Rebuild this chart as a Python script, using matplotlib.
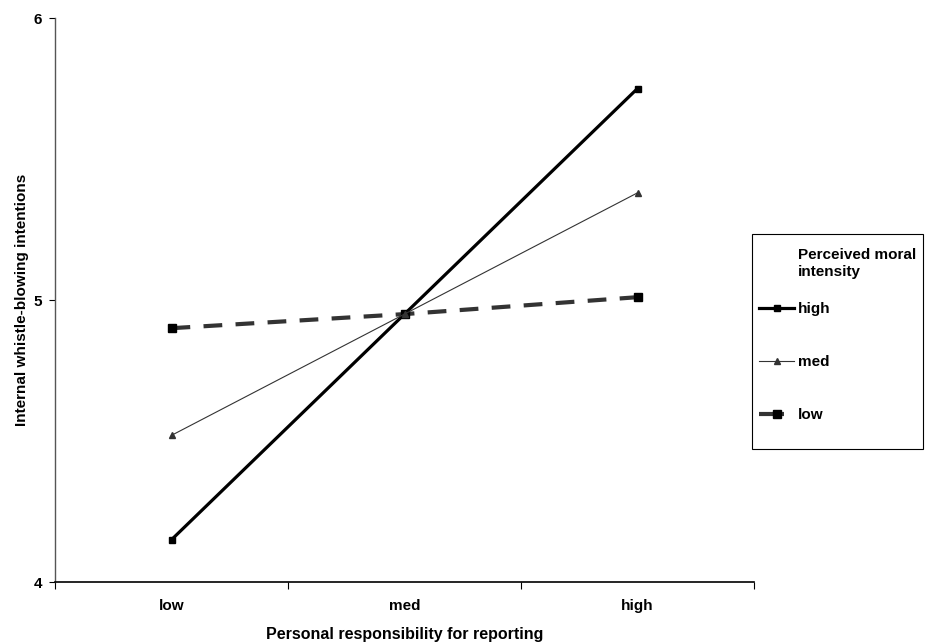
import matplotlib
matplotlib.use("Agg")
import matplotlib.pyplot as plt
from matplotlib.lines import Line2D
from matplotlib.patches import Rectangle
from matplotlib.ticker import FixedLocator, NullFormatter, FixedFormatter

plt.rcParams['font.family'] = ['Liberation Sans', 'DejaVu Sans']

categories = ["low", "med", "high"]
high_values = [4.15, 4.95, 5.75]
med_values = [4.52, 4.95, 5.38]
low_values = [4.90, 4.95, 5.01]
y_ticks = [4, 5, 6]
series_labels = ["high", "med", "low"]

W, H = 932, 644
FS = 11

fig = plt.figure(figsize=(W / 100, H / 100), dpi=100)
ax = fig.add_axes([55 / W, 1 - 582 / H, (754 - 55) / W, (582 - 18) / H])

styles = [
    dict(color="black", lw=2.3, marker="s", ms=4.5, mfc="black", mec="black"),
    dict(color="#333333", lw=0.8, marker="^", ms=5, mfc="#333333", mec="#333333"),
    dict(color="#333333", lw=3.0, ls=(0, (4.5, 3.2)), marker="s", ms=5.5,
         mfc="black", mec="black"),
]

x = list(range(len(categories)))
for vals, st, z in zip([high_values, med_values, low_values], styles, [3, 3, 2]):
    ax.plot(x, vals, zorder=z, **st)

ax.set_xlim(-0.5, len(categories) - 0.5)
ax.set_ylim(4, 6)

# category boundaries carry the tick marks, labels sit at category centres
ax.xaxis.set_major_locator(FixedLocator([i - 0.5 for i in range(len(categories) + 1)]))
ax.xaxis.set_major_formatter(NullFormatter())
ax.xaxis.set_minor_locator(FixedLocator(x))
ax.xaxis.set_minor_formatter(FixedFormatter(categories))
ax.tick_params(axis="x", which="major", direction="out", length=5, width=0.8)
ax.tick_params(axis="x", which="minor", length=0, pad=12, labelsize=FS)
for lab in ax.get_xticklabels(minor=True):
    lab.set_fontweight("bold")

ax.set_yticks(y_ticks)
ax.set_yticklabels([str(v) for v in y_ticks], fontweight="bold", fontsize=FS)
ax.tick_params(axis="y", direction="out", length=4, width=0.8, pad=5.5)

for side in ("top", "right"):
    ax.spines[side].set_visible(False)
ax.spines["left"].set_color("#555555")
ax.spines["left"].set_linewidth(1.0)
ax.spines["bottom"].set_color("black")
ax.spines["bottom"].set_linewidth(1.2)

ax.set_xlabel("Personal responsibility for reporting", fontweight="bold",
              fontsize=11.5, labelpad=10.5)
ax.set_ylabel("Internal whistle-blowing intentions", fontweight="bold",
              fontsize=FS, labelpad=3)

# legend: frame, title and entries
fig.patches.append(Rectangle((752 / W, 1 - 449 / H), (923 - 752) / W, (449 - 234) / H,
                             transform=fig.transFigure, facecolor="white",
                             edgecolor="black", lw=0.8, zorder=1))
fig.text(798 / W, 1 - 248 / H, "Perceived moral\nintensity", fontsize=FS,
         fontweight="bold", va="top", ha="left", linespacing=1.25, zorder=3)

handles = [
    Line2D([], [], **styles[0]),
    Line2D([], [], **styles[1]),
    Line2D([], [], **{**styles[2], "ls": (0, (6.0, 20))}),
]
leg = fig.legend(handles, series_labels, loc="upper left",
                 bbox_to_anchor=(759 / W, 1 - 302 / H), frameon=False,
                 handlelength=2.3, handletextpad=0.25, labelspacing=2.55,
                 borderpad=0, borderaxespad=0,
                 prop={"weight": "bold", "size": FS})
leg.set_zorder(3)

fig.savefig("out.png", dpi=100)
